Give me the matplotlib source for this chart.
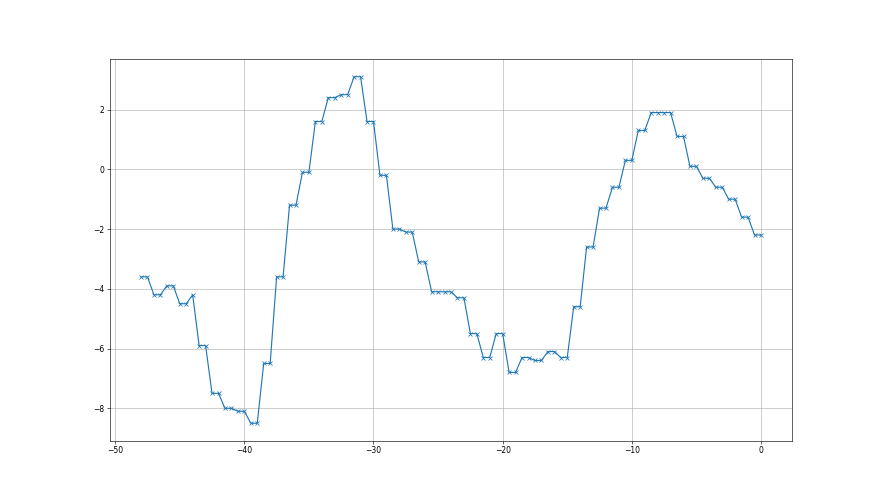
import numpy as np
import matplotlib
matplotlib.use("Agg")
import matplotlib.pyplot as plt

# time offset (half-unit steps) and series values
x = np.arange(-48, 0.5, 0.5)
values = [
    -3.6, -3.6, -4.2, -4.2, -3.9, -3.9, -4.5, -4.5, -4.2, -5.9,
    -5.9, -7.5, -7.5, -8.0, -8.0, -8.1, -8.1, -8.5, -8.5, -6.5,
    -6.5, -3.6, -3.6, -1.2, -1.2, -0.1, -0.1, 1.6, 1.6, 2.4,
    2.4, 2.5, 2.5, 3.1, 3.1, 1.6, 1.6, -0.2, -0.2, -2.0,
    -2.0, -2.1, -2.1, -3.1, -3.1, -4.1, -4.1, -4.1, -4.1, -4.3,
    -4.3, -5.5, -5.5, -6.3, -6.3, -5.5, -5.5, -6.8, -6.8, -6.3,
    -6.3, -6.4, -6.4, -6.1, -6.1, -6.3, -6.3, -4.6, -4.6, -2.6,
    -2.6, -1.3, -1.3, -0.6, -0.6, 0.3, 0.3, 1.3, 1.3, 1.9,
    1.9, 1.9, 1.9, 1.1, 1.1, 0.1, 0.1, -0.3, -0.3, -0.6,
    -0.6, -1.0, -1.0, -1.6, -1.6, -2.2, -2.2,
]

fig, ax = plt.subplots(figsize=(16, 9), dpi=55)
ax.plot(x, values, marker="x")
ax.grid(True)
fig.savefig("out.png", dpi=55)
